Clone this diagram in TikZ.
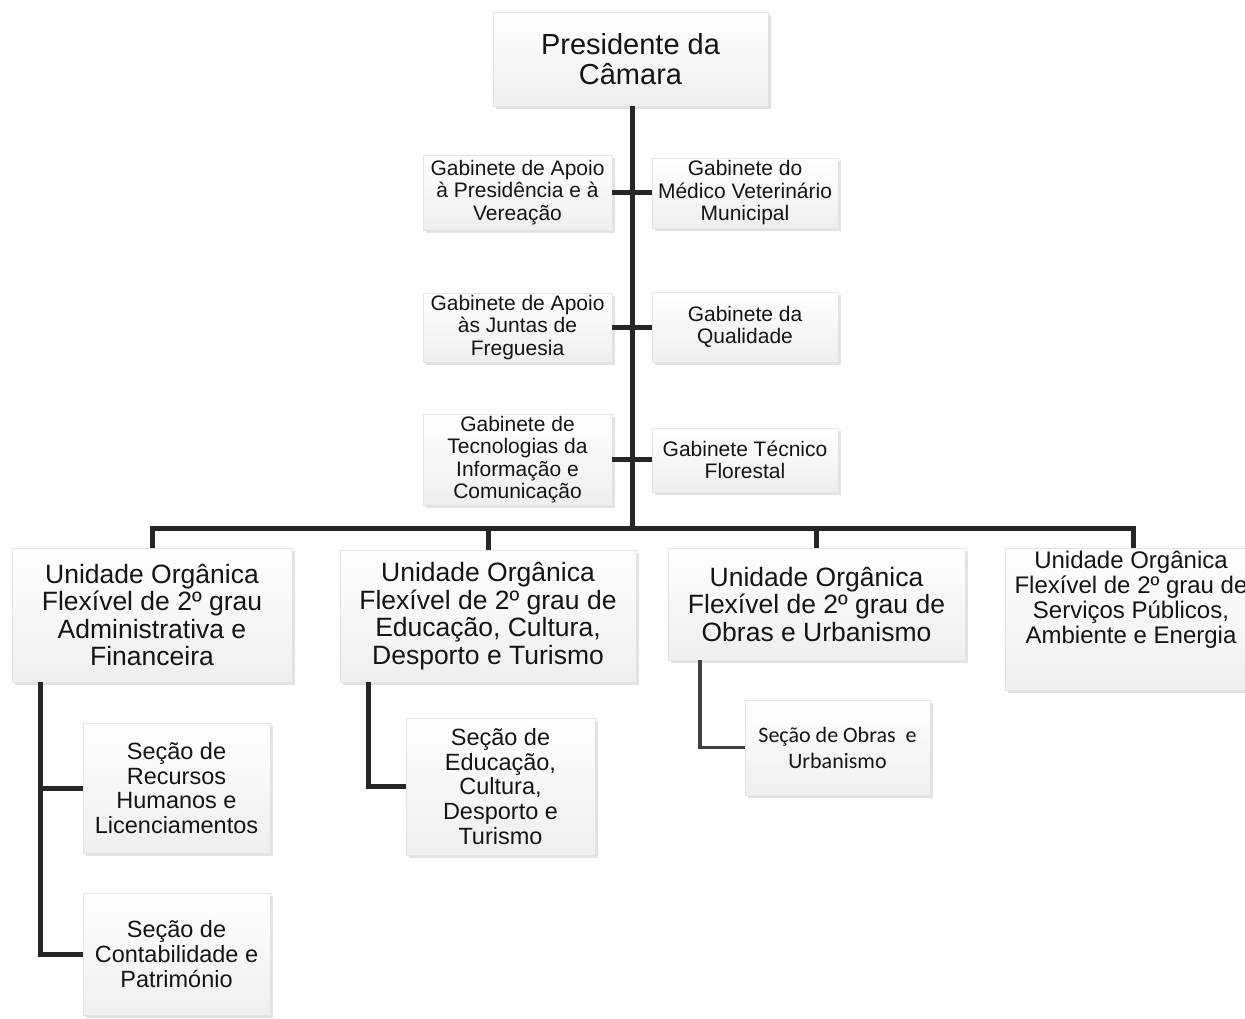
\documentclass[tikz,border=0pt]{standalone}
\usepackage{fontspec}
\setmainfont{Liberation Sans}
\newfontfamily\calibfont{Carlito}
\usetikzlibrary{shadows}
\tikzset{
  box/.style={draw=gray!22, line width=0.5pt, top color=white, middle color=white, bottom color=gray!13,
    inner sep=0pt, outer sep=0pt, align=center, text=black!92,
    drop shadow={shadow xshift=2.5pt, shadow yshift=-2.5pt, fill=gray!50, opacity=0.45}},
  fpres/.style={font=\fontsize{29}{30}\selectfont},
  fgab/.style={font=\fontsize{21}{22.5}\selectfont},
  funit/.style={font=\fontsize{26.5}{27.5}\selectfont},
  funitb/.style={font=\fontsize{24}{25}\selectfont},
  fsec/.style={font=\fontsize{23.5}{24.8}\selectfont},
  fcal/.style={font=\calibfont\fontsize{22}{26}\selectfont},
  conn/.style={line width=5pt, draw=black!85},
  connthin/.style={line width=3.5pt, draw=black!75},
}
\begin{document}
\begin{tikzpicture}[x=1pt,y=-1pt]
\useasboundingbox (0,0) rectangle (1245,1018);
\clip (0,0) rectangle (1245,1018);

% top
\node[box,fpres,minimum width=275pt,minimum height=94pt] (pres) at (630.5,59) {Presidente da\\Câmara};

% gabinetes
\node[box,fgab,minimum width=189pt,minimum height=75pt] (gap1) at (517.5,192.5) {Gabinete de Apoio\\à Presidência e à\\Vereação};
\node[box,fgab,minimum width=186pt,minimum height=70pt] (gmv) at (745,193) {Gabinete do\\Médico Veterinário\\Municipal};
\node[box,fgab,minimum width=189pt,minimum height=69pt] (gap2) at (517.5,327.5) {Gabinete de Apoio\\às Juntas de\\Freguesia};
\node[box,fgab,minimum width=186pt,minimum height=70pt] (gq) at (745,327) {Gabinete da\\Qualidade};
\node[box,fgab,minimum width=189pt,minimum height=91pt] (gtic) at (517.5,459.5) {Gabinete de\\Tecnologias da\\Informação e\\Comunicação};
\node[box,fgab,minimum width=186pt,minimum height=64pt] (gtf) at (745,460) {Gabinete Técnico\\Florestal};

% units
\node[box,funit,minimum width=280pt,minimum height=134pt] (u1) at (152,615) {Unidade Orgânica\\Flexível de 2º grau\\Administrativa e\\Financeira};
\node[box,funit,minimum width=296pt,minimum height=132pt] (u2) at (488,616) {Unidade Orgânica\\Flexível de 2º grau de\\Educação, Cultura,\\Desporto e Turismo};
\node[box,funit,minimum width=297pt,minimum height=112pt] (u3) at (816.5,604) {Unidade Orgânica\\Flexível de 2º grau de\\Obras e Urbanismo};
\node[box,minimum width=256pt,minimum height=142pt] (u4) at (1133,619) {};
\node[funitb,align=center,inner sep=0pt,text=black!92] (u4t) at (1131,600) {Unidade Orgânica\\Flexível de 2º grau de\\Serviços Públicos,\\Ambiente e Energia};

% sections
\node[box,fsec,minimum width=187pt,minimum height=130pt] (secrh) at (176.5,788) {Seção de\\Recursos\\Humanos e\\Licenciamentos};
\node[box,fsec,minimum width=187pt,minimum height=122pt] (secct) at (176.5,954) {Seção de\\Contabilidade e\\Património};
\node[box,fsec,minimum width=189pt,minimum height=137pt] (secedu) at (500.5,786.5) {Seção de\\Educação,\\Cultura,\\Desporto e\\Turismo};
\node[box,fcal,minimum width=185pt,minimum height=95pt] (secob) at (837.5,747.5) {Seção de Obras\ \ e\\Urbanismo};

% connectors
\coordinate (bar) at (632,528);
\draw[conn] (pres.south -| bar) -- (bar);
\draw[conn] (gap1.east) -- (gap1.east -| gmv.west);
\draw[conn] (gap2.east) -- (gap2.east -| gq.west);
\draw[conn] (gtic.east) -- (gtic.east -| gtf.west);
\draw[conn] (u1.north) |- (bar) -| (u4.north);
\draw[conn] (u2.north) -- (u2.north |- bar);
\draw[conn] (u3.north) -- (u3.north |- bar);

\coordinate (v1) at (40,682);
\draw[conn] (v1) |- (secct.west);
\draw[conn] (v1 |- secrh.west) -- (secrh.west);
\coordinate (v2) at (368,682);
\draw[conn] (v2) |- (secedu.west);
\coordinate (v3) at (700,660);
\draw[connthin] (v3) |- (secob.west);
\end{tikzpicture}
\end{document}
